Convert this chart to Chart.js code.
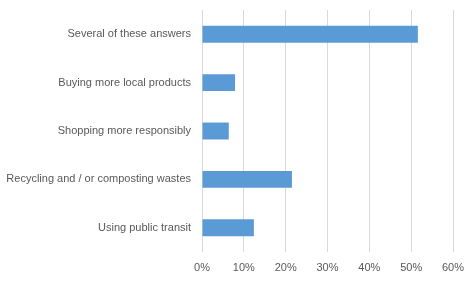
<!DOCTYPE html>
<html>
<head>
<meta charset="utf-8">
<script src="https://cdn.jsdelivr.net/npm/chart.js@4"></script>
<style>
  html, body { margin: 0; padding: 0; background: #fff; }
  #wrap { width: 475px; height: 282px; }
</style>
</head>
<body>
<div id="wrap"><canvas id="barChart"></canvas></div>
<script>
const categories = [
  'Several of these answers',
  'Buying more local products',
  'Shopping more responsibly',
  'Recycling and / or composting wastes',
  'Using public transit'
]
const shares = [51.6, 7.9, 6.4, 21.5, 12.4]
const tickValues = [0, 10, 20, 30, 40, 50, 60]

const ctx = document.getElementById('barChart')
new Chart(ctx, {
  type: 'bar',
  data: {
    labels: categories,
    datasets: [
      {
        data: shares,
        backgroundColor: '#5b9bd5',
        barPercentage: 0.35,
        categoryPercentage: 1
      }
    ]
  },
  options: {
    indexAxis: 'y',
    responsive: true,
    maintainAspectRatio: false,
    animation: false,
    layout: {
      padding: { top: 10, right: 22, bottom: 0, left: 0 }
    },
    plugins: {
      legend: { display: false },
      tooltip: { enabled: false }
    },
    scales: {
      x: {
        min: 0,
        max: 60,
        afterBuildTicks: (scale) => {
          scale.ticks = tickValues.map(v => ({ value: v }))
        },
        afterFit: (scale) => { scale.height = 30 },
        grid: { color: '#d9d9d9', lineWidth: 1, drawTicks: false },
        border: { display: false },
        ticks: {
          padding: 9,
          color: '#595959',
          font: { family: 'Liberation Sans', size: 11 },
          callback: (v) => v + '%'
        }
      },
      y: {
        afterFit: (scale) => {
          scale.width = 202
          scale.paddingTop = 0
          scale.paddingBottom = 0
        },
        grid: { display: false, drawTicks: false },
        border: { display: false },
        ticks: {
          padding: 11,
          color: '#595959',
          font: { family: 'Liberation Sans', size: 11 }
        }
      }
    }
  }
})
</script>
</body>
</html>
